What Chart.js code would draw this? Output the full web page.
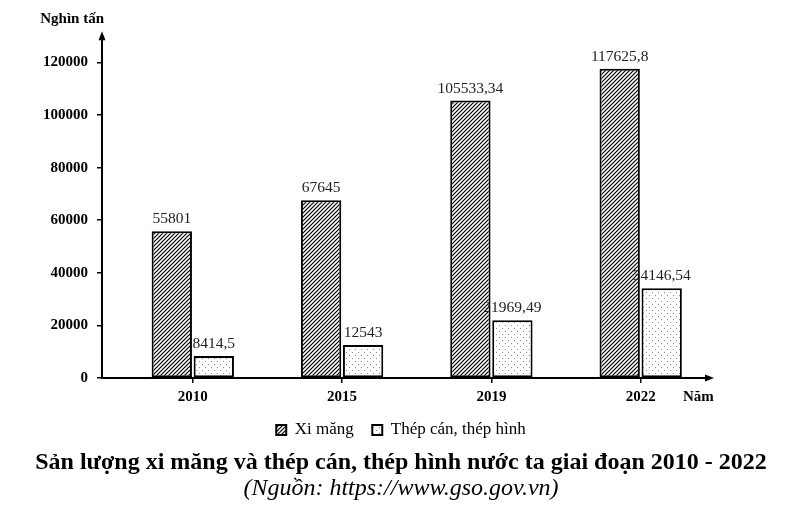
<!DOCTYPE html>
<html>
<head>
<meta charset="utf-8">
<script src="https://cdn.jsdelivr.net/npm/chart.js@4.4.1/dist/chart.umd.min.js"></script>
<style>
  html, body { margin: 0; padding: 0; background: #ffffff; }
  #wrap { width: 792px; height: 510px; }
</style>
</head>
<body>
<div id="wrap"><canvas id="c" width="792" height="510"></canvas></div>
<script>
// ---- Data ----
const categories = ['2010', '2015', '2019', '2022'];
const xiMang = [55801, 67645, 105533.34, 117625.8];
const thepCan = [8414.5, 12543, 21969.49, 34146.54];
const seriesNames = ['Xi măng', 'Thép cán, thép hình'];
const yTicks = [0, 20000, 40000, 60000, 80000, 100000, 120000];
const yAxisTitle = 'Nghìn tấn';
const xAxisTitle = 'Năm';
const chartTitle = 'Sản lượng xi măng và thép cán, thép hình nước ta giai đoạn 2010 - 2022';
const sourceText = '(Nguồn: https://www.gso.gov.vn)';

const SERIF = "'Liberation Serif', 'Times New Roman', Times, serif";

function hatchPattern() {
  const s = 4;
  const c = document.createElement('canvas');
  c.width = s; c.height = s;
  const g = c.getContext('2d');
  g.fillStyle = '#ffffff';
  g.fillRect(0, 0, s, s);
  g.strokeStyle = '#000000';
  g.lineWidth = 1.2;
  g.beginPath();
  g.moveTo(-1, s + 1); g.lineTo(s + 1, -1);
  g.moveTo(-1, 1); g.lineTo(1, -1);
  g.moveTo(s - 1, s + 1); g.lineTo(s + 1, s - 1);
  g.stroke();
  return g.createPattern(c, 'repeat');
}
function dotPattern() {
  const s = 6;
  const c = document.createElement('canvas');
  c.width = s; c.height = s;
  const g = c.getContext('2d');
  g.fillStyle = '#ffffff';
  g.fillRect(0, 0, s, s);
  g.fillStyle = '#8a8a8a';
  g.fillRect(1, 1, 1, 1);
  g.fillRect(4, 4, 1, 1);
  return g.createPattern(c, 'repeat');
}

const fmt = v => String(v).replace('.', ',');

const decorPlugin = {
  id: 'decor',
  afterDatasetsDraw(chart) {
    const ctx = chart.ctx;
    ctx.save();
    ctx.font = '15.5px ' + SERIF;
    ctx.fillStyle = '#222222';
    ctx.textAlign = 'center';
    ctx.textBaseline = 'alphabetic';
    chart.data.datasets.forEach((ds, di) => {
      const meta = chart.getDatasetMeta(di);
      meta.data.forEach((el, i) => {
        ctx.fillText(fmt(ds.data[i].y), el.x, el.y - 8);
      });
    });
    ctx.restore();
  },
  afterDraw(chart) {
    const ctx = chart.ctx;
    const a = chart.chartArea;
    ctx.save();
    ctx.strokeStyle = '#000';
    ctx.fillStyle = '#000';
    ctx.lineWidth = 2;
    // y axis arrow
    const yx = a.left;
    ctx.beginPath();
    ctx.moveTo(yx, a.top); ctx.lineTo(yx, a.top - 2);
    ctx.stroke();
    ctx.beginPath();
    ctx.moveTo(yx, a.top - 5);
    ctx.lineTo(yx - 3.5, a.top + 4);
    ctx.lineTo(yx + 3.5, a.top + 4);
    ctx.closePath();
    ctx.fill();
    // x axis arrow
    const xy = a.bottom;
    ctx.beginPath();
    ctx.moveTo(a.right, xy); ctx.lineTo(a.right + 4, xy);
    ctx.stroke();
    ctx.beginPath();
    ctx.moveTo(a.right + 8, xy);
    ctx.lineTo(a.right - 1, xy - 3.5);
    ctx.lineTo(a.right - 1, xy + 3.5);
    ctx.closePath();
    ctx.fill();
    // axis titles
    ctx.font = 'bold 15px ' + SERIF;
    ctx.textBaseline = 'middle';
    ctx.textAlign = 'right';
    ctx.fillText(yAxisTitle, a.left + 2, 19);
    ctx.textAlign = 'left';
    ctx.fillText(xAxisTitle, a.right - 23, a.bottom + 19);
    ctx.restore();
  }
};

const ctx = document.getElementById('c').getContext('2d');
new Chart(ctx, {
  type: 'bar',
  data: {
    datasets: [
      {
        label: seriesNames[0],
        data: categories.map((c, i) => ({ x: i, y: xiMang[i] })),
        backgroundColor: hatchPattern(),
        borderColor: '#000',
        borderWidth: 2,
        borderSkipped: false,
        xAxisID: 'x', yAxisID: 'y'
      },
      {
        label: seriesNames[1],
        data: categories.map((c, i) => ({ x: i, y: thepCan[i] })),
        backgroundColor: dotPattern(),
        borderColor: '#000',
        borderWidth: 2,
        borderSkipped: false,
        xAxisID: 'x', yAxisID: 'y'
      }
    ]
  },
  options: {
    responsive: false,
    devicePixelRatio: 1,
    animation: false,
    datasets: { bar: { categoryPercentage: 0.5626, barPercentage: 0.96 } },
    layout: { padding: { top: 36.2, left: 10, right: 0, bottom: 9 } },
    scales: {
      x: {
        type: 'linear',
        position: 'bottom',
        offset: false,
        min: -0.6082,
        max: 3.4374,
        afterBuildTicks: s => { s.ticks = categories.map((c, i) => ({ value: i })); },
        afterFit: s => { s.height = 25; },
        ticks: {
          callback: v => categories[v],
          font: { family: SERIF, size: 15, weight: 'bold', lineHeight: 0.8 },
          color: '#000',
          padding: 8,
          maxRotation: 0,
          autoSkip: false
        },
        grid: { display: true, offset: false, drawOnChartArea: false, drawTicks: true, tickLength: 5, color: '#000', lineWidth: 1.5 },
        border: { display: true, color: '#000', width: 2 }
      },
      y: {
        position: 'left',
        min: 0,
        max: 130000,
        afterBuildTicks: s => { s.ticks = yTicks.map(v => ({ value: v })); },
        afterFit: s => { s.width = 92; },
        ticks: {
          font: { family: SERIF, size: 15, weight: 'bold' },
          color: '#000',
          padding: 9,
          callback: v => String(v)
        },
        grid: { display: true, drawOnChartArea: false, drawTicks: true, tickLength: 5, color: '#000', lineWidth: 1.5 },
        border: { display: true, color: '#000', width: 2 }
      },
      yr: {
        type: 'linear',
        position: 'right',
        display: true,
        afterFit: s => { s.width = 86; },
        ticks: { display: false },
        grid: { display: false, drawTicks: false },
        border: { display: false }
      }
    },
    plugins: {
      legend: {
        position: 'bottom',
        labels: {
          boxWidth: 10,
          boxHeight: 10,
          padding: 18.5,
          color: '#000',
          font: { family: SERIF, size: 17 }
        }
      },
      subtitle: {
        display: true,
        position: 'bottom',
        text: chartTitle,
        color: '#000',
        font: { family: SERIF, size: 24, weight: 'bold', lineHeight: 1.0 },
        padding: { top: 2.5, bottom: 2 }
      },
      title: {
        display: true,
        position: 'bottom',
        text: sourceText,
        color: '#000',
        font: { family: SERIF, size: 24, style: 'italic', weight: 'normal', lineHeight: 1.0 },
        padding: { top: 0, bottom: 0 }
      },
      tooltip: { enabled: false }
    }
  },
  plugins: [decorPlugin]
});
</script>
</body>
</html>
